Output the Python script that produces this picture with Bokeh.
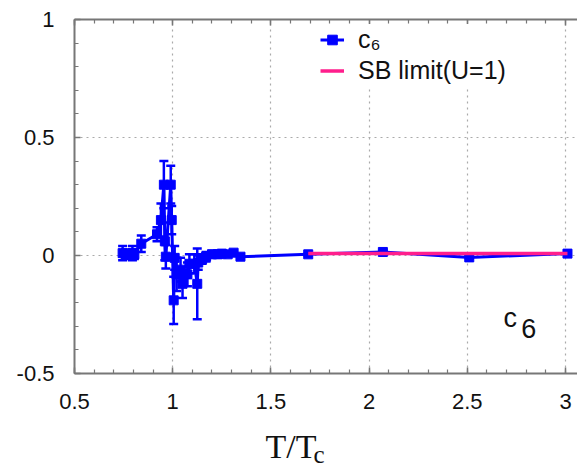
from bokeh.plotting import figure
from bokeh.models import (Range1d, LinearAxis, SingleIntervalTicker, Legend, LegendItem,
                          Label, Whisker, ColumnDataSource, TeeHead, Title)
from bokeh.embed import file_html
from bokeh.resources import INLINE

# ---- data ----
t_over_tc = [0.745, 0.76, 0.795, 0.805, 0.84, 0.92, 0.94, 0.955, 0.96, 0.965, 0.99, 0.995,
             1.005, 1.01, 1.02, 1.04, 1.05, 1.075, 1.085, 1.11, 1.125, 1.13, 1.15, 1.17,
             1.20, 1.23, 1.25, 1.28, 1.31, 1.345, 1.69, 2.07, 2.51, 3.01]
c6 = [0.01, 0.005, 0.01, 0.005, 0.05, 0.09, 0.15, 0.30, 0.06, -0.005, 0.30, 0.15,
      -0.19, -0.01, -0.08, -0.06, -0.12, -0.08, -0.035, -0.035, -0.12, -0.03, -0.015, -0.005,
      0.005, 0.005, 0.008, 0.005, 0.012, -0.005, 0.005, 0.015, -0.008, 0.008]
c6_err = [0.03, 0.02, 0.03, 0.02, 0.035, 0.03, 0.07, 0.10, 0.08, 0.05, 0.08, 0.06,
          0.10, 0.05, 0.07, 0.05, 0.06, 0.05, 0.04, 0.04, 0.15, 0.03, 0.02, 0.02,
          0.015, 0.015, 0.01, 0.01, 0.01, 0.01, 0.006, 0.006, 0.006, 0.006]
sb_x = [1.69, 3.01]
sb_y = [0.008, 0.008]

x_tick_labels = {0.5: "0.5", 1: "1", 1.5: "1.5", 2: "2", 2.5: "2.5", 3: "3"}
y_tick_labels = {-0.5: "-0.5", 0: "0", 0.5: "0.5", 1: "1"}

BLUE = "#0000ff"
PINK = "#ff1e8c"
AXC = "#777777"
FONT = "Liberation Sans"
SERIF = "Liberation Serif"
TXT = "#111111"

p = figure(width=577, height=468, output_backend="svg", toolbar_location=None,
           x_range=Range1d(0.5, 3.061), y_range=Range1d(-0.5, 1.0),
           x_axis_location=None, y_axis_location=None,
           min_border_left=74, min_border_top=19, min_border_bottom=95, min_border_right=0)
p.outline_line_color = None
p.background_fill_color = "white"
p.border_fill_color = "white"

def style_axis(ax):
    ax.axis_line_color = AXC
    ax.axis_line_width = 2
    ax.major_tick_line_color = AXC
    ax.minor_tick_line_color = AXC
    ax.major_tick_in = 6
    ax.major_tick_out = 0
    ax.minor_tick_in = 4
    ax.minor_tick_out = 0
    ax.major_tick_line_width = 1.5
    ax.minor_tick_line_width = 1.2
    ax.major_label_text_font = FONT
    ax.major_label_text_font_size = "22px"
    ax.major_label_text_color = TXT

xt = SingleIntervalTicker(interval=0.5, num_minor_ticks=5)
yt = SingleIntervalTicker(interval=0.5, num_minor_ticks=5)

xb = LinearAxis(ticker=xt, major_label_overrides=x_tick_labels)
style_axis(xb)
xb.major_label_standoff = 20
# invisible axis label used only as spacing for the title panels below
xb.axis_label = "T/T"
xb.axis_label_text_font_size = "1px"
xb.axis_label_text_color = None
xb.axis_label_standoff = 10
p.add_layout(xb, "below")

xa = LinearAxis(ticker=SingleIntervalTicker(interval=0.5, num_minor_ticks=5))
style_axis(xa)
xa.major_label_text_font_size = "1px"
xa.major_label_text_color = None
xa.major_label_standoff = 0
p.add_layout(xa, "above")

yl = LinearAxis(ticker=yt, major_label_overrides=y_tick_labels)
style_axis(yl)
yl.major_label_standoff = 20
p.add_layout(yl, "left")

p.xgrid.ticker = xt
p.ygrid.ticker = yt
for g in (p.xgrid, p.ygrid):
    g.grid_line_color = "#aaaaaa"
    g.grid_line_dash = "2 4"
    g.grid_line_width = 1.2

# ---- data marks ----
lower = [v - e for v, e in zip(c6, c6_err)]
upper = [v + e for v, e in zip(c6, c6_err)]
src = ColumnDataSource(dict(x=t_over_tc, y=c6, lo=lower, hi=upper))

wh = Whisker(source=src, base="x", lower="lo", upper="hi", dimension="height",
             line_color=BLUE, line_width=2.5,
             upper_head=TeeHead(size=9, line_color=BLUE, line_width=2.5),
             lower_head=TeeHead(size=9, line_color=BLUE, line_width=2.5))
p.add_layout(wh)

c6_line = p.line("x", "y", source=src, line_color=BLUE, line_width=3)
c6_pts = p.scatter("x", "y", source=src, marker="square", size=9,
                   fill_color=BLUE, line_color=BLUE)

sb_line = p.line(sb_x, sb_y, line_color=PINK, line_width=3.5)

# ---- legend ----
legend = Legend(items=[LegendItem(label="c\u2086", renderers=[c6_line, c6_pts]),
                       LegendItem(label="SB limit(U=1)", renderers=[sb_line])],
                location=(246, 287), orientation="vertical",
                glyph_width=24, glyph_height=31, label_height=31, label_standoff=14,
                padding=2, margin=0, spacing=0,
                border_line_color=None, background_fill_color="white", background_fill_alpha=1.0,
                label_text_font=FONT, label_text_font_size="25px", label_text_color=TXT)
p.add_layout(legend)

# ---- in-plot "c6" annotation ----
p.add_layout(Label(x=2.684, y=-0.265, text="c", text_font=FONT, text_font_size="27px",
                   text_color=TXT, text_baseline="alphabetic"))
p.add_layout(Label(x=2.775, y=-0.308, text="6", text_font=FONT, text_font_size="27px",
                   text_color=TXT, text_baseline="alphabetic"))

# ---- x axis title T/T_c as two below-titles ----
p.add_layout(Title(text="T/T", text_font=SERIF, text_font_size="34px", text_font_style="normal",
                   text_color=TXT, align="left", vertical_align="top", offset=191, standoff=4),
             "below")
p.add_layout(Title(text="c", text_font=SERIF, text_font_size="25px", text_font_style="normal",
                   text_color=TXT, align="left", vertical_align="top", offset=239, standoff=-56),
             "below")

open("out.html", "w").write(file_html(p, INLINE))
